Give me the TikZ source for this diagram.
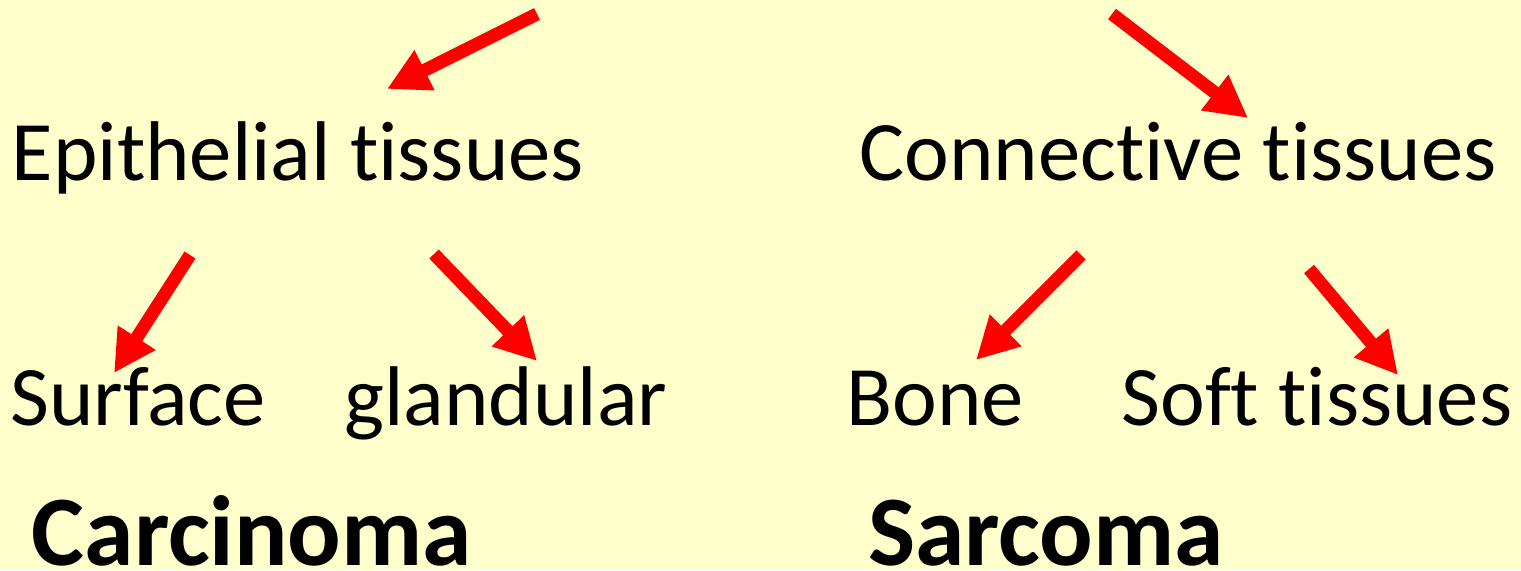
\documentclass[tikz,border=0pt]{standalone}
\usepackage{fontspec}
\setmainfont{Carlito}[Ligatures={NoCommon}]
\usepackage{xcolor}
\usepackage{tikz}
\usetikzlibrary{arrows.meta,positioning}
\definecolor{paleyellow}{HTML}{FFFFCC}
\definecolor{arrowred}{HTML}{FF0000}

\begin{document}
\begin{tikzpicture}[
    x=0.1mm, y=-0.1mm,
    tissue/.style={anchor=base, inner sep=0pt, font=\fontsize{24.1}{29}\selectfont},
    tumour/.style={anchor=base, inner sep=0pt, font=\fontsize{28.4}{34}\selectfont\bfseries},
    arrow/.style={draw=arrowred, line width=1.3mm, -{Triangle[length=4.2mm, width=4.2mm]}}
]
\fill[paleyellow] (0,0) rectangle (1521,570);
\useasboundingbox (0,0) rectangle (1521,570);

\node[tissue] (epith) at (298,180) {Epithelial tissues};
\node[tissue] (conn) at (1178,180) {Connective tissues};
\node[tissue] (surface) at (138,425) {Surface};
\node[tissue] (gland) at (506,425) {glandular};
\node[tissue] (bone) at (935,425) {Bone};
\node[tissue] (soft) at (1317,425) {Soft tissues};
\node[tumour] (carc) at (252,565) {Carcinoma};
\node[tumour] (sarc) at (1046,565) {Sarcoma};

\coordinate (epithin) at (537,14);
\coordinate (epithtip) at (387,89);
\coordinate (connin) at (1112,14);
\coordinate (conntip) at (1248,118);
\coordinate (surfout) at (190,255);
\coordinate (surftip) at (114,373);
\coordinate (glandout) at (434,254);
\coordinate (glandtip) at (537,361);
\coordinate (boneout) at (1081,255);
\coordinate (bonetip) at (976,360);
\coordinate (softout) at (1309,269);
\coordinate (softtip) at (1398,375);

\draw[arrow] (epithin) -- (epithtip);
\draw[arrow] (connin) -- (conntip);
\draw[arrow] (surfout) -- (surftip);
\draw[arrow] (glandout) -- (glandtip);
\draw[arrow] (boneout) -- (bonetip);
\draw[arrow] (softout) -- (softtip);
\end{tikzpicture}
\end{document}
